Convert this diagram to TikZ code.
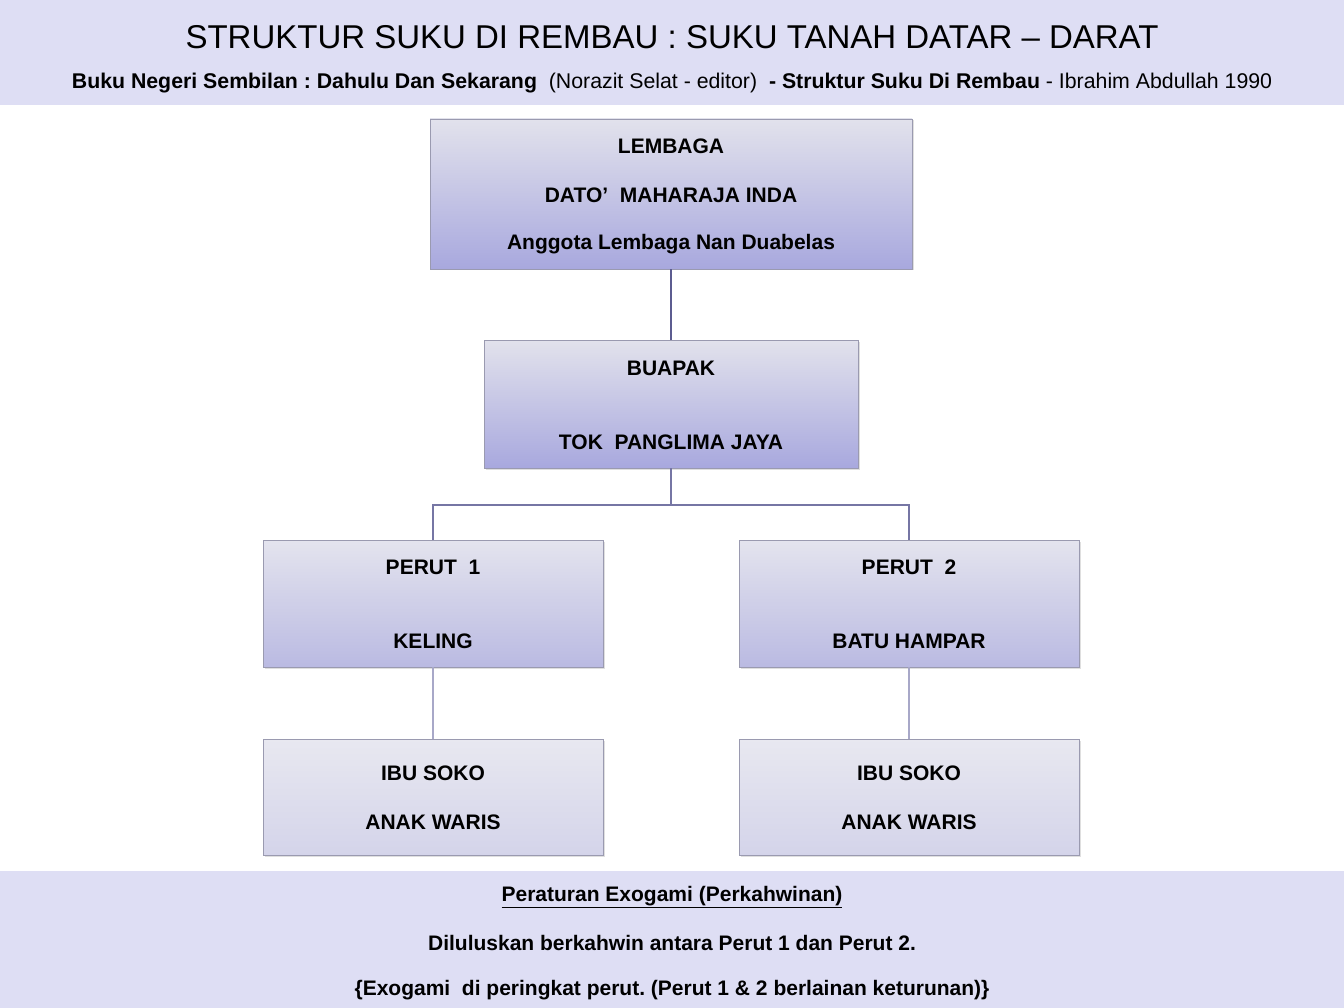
\documentclass[tikz,border=0pt]{standalone}
\usepackage{fontspec}
\setmainfont{Liberation Sans}
\usetikzlibrary{shadows}
\frenchspacing
\definecolor{band}{HTML}{DEDEF4}
\definecolor{boxborder}{HTML}{9A9AB0}
\definecolor{lineA}{HTML}{5C5C90}
\definecolor{lineB}{HTML}{7676A4}
\definecolor{lineC}{HTML}{A8A8C8}
\tikzset{
  x=1pt,y=-1pt,
  boxbase/.style={draw=boxborder, line width=0.8pt, inner sep=0pt,
    drop shadow={opacity=0.25, shadow xshift=1.5pt, shadow yshift=-1.5pt}},
  boxA/.style={boxbase, top color={rgb,255:red,226;green,226;blue,236}, bottom color={rgb,255:red,168;green,168;blue,222}},
  boxB/.style={boxbase, top color={rgb,255:red,228;green,228;blue,238}, bottom color={rgb,255:red,186;green,186;blue,226}},
  boxC/.style={boxbase, top color={rgb,255:red,232;green,232;blue,240}, bottom color={rgb,255:red,212;green,212;blue,234}},
  btxt/.style={font=\fontsize{21}{25}\selectfont\bfseries, inner sep=0pt},
  conn/.style={line width=2pt},
}
\begin{document}
\begin{tikzpicture}
\useasboundingbox (0,0) rectangle (1344,1008);
\fill[white] (0,0) rectangle (1344,1008);
\fill[band] (0,0) rectangle (1344,105);
\fill[band] (0,871) rectangle (1344,1008);

\node[inner sep=0pt, font=\fontsize{33}{38}\selectfont] (title) at (672,37) {STRUKTUR SUKU DI REMBAU : SUKU TANAH DATAR – DARAT};
\node[inner sep=0pt, font=\fontsize{21.3}{24}\selectfont] (sub) at (672,83) {\textbf{Buku Negeri Sembilan : Dahulu Dan Sekarang}\ \ (Norazit Selat - editor)\ \ \textbf{- Struktur Suku Di Rembau} - Ibrahim Abdullah 1990};

% boxes
\node[boxA, minimum width=482pt, minimum height=150pt] (lem) at (671,194) {};
\node[boxA, minimum width=374pt, minimum height=128pt] (bua) at (671,404) {};
\node[boxB, minimum width=340pt, minimum height=127pt] (p1) at (433,603.5) {};
\node[boxB, minimum width=340pt, minimum height=127pt] (p2) at (909,603.5) {};
\node[boxC, minimum width=340pt, minimum height=116pt] (i1) at (433,797) {};
\node[boxC, minimum width=340pt, minimum height=116pt] (i2) at (909,797) {};

% texts
\node[btxt] (t1) at (671,146) {LEMBAGA};
\node[btxt] (t2) at (671,195) {DATO’\ \ MAHARAJA INDA};
\node[btxt] (t3) at (671,244) {Anggota Lembaga Nan Duabelas};
\node[btxt] (t4) at (671,368) {BUAPAK};
\node[btxt] (t5) at (671,442) {TOK\ \ PANGLIMA JAYA};
\node[btxt] (t6) at (433,567) {PERUT\ \ 1};
\node[btxt] (t7) at (433,641) {KELING};
\node[btxt] (t8) at (909,567) {PERUT\ \ 2};
\node[btxt] (t9) at (909,641) {BATU HAMPAR};
\node[btxt] (t10) at (433,773) {IBU SOKO};
\node[btxt] (t11) at (433,822) {ANAK WARIS};
\node[btxt] (t12) at (909,773) {IBU SOKO};
\node[btxt] (t13) at (909,822) {ANAK WARIS};

% connectors
\draw[conn, lineA] (lem.south) -- (bua.north);
\draw[conn, lineB] (bua.south) -- ++(0,37) -| (p1.north);
\draw[conn, lineB] (bua.south) -- ++(0,37) -| (p2.north);
\draw[conn, lineC] (p1.south) -- (i1.north);
\draw[conn, lineC] (p2.south) -- (i2.north);

% footer
\node[btxt] (f1) at (672,897) {\underline{Peraturan Exogami (Perkahwinan)}};
\node[btxt] (f2) at (672,943) {Diluluskan berkahwin antara Perut 1 dan Perut 2.};
\node[btxt] (f3) at (672,990) {\{Exogami\ \ di peringkat perut. (Perut 1 \& 2 berlainan keturunan)\}};
\end{tikzpicture}
\end{document}
